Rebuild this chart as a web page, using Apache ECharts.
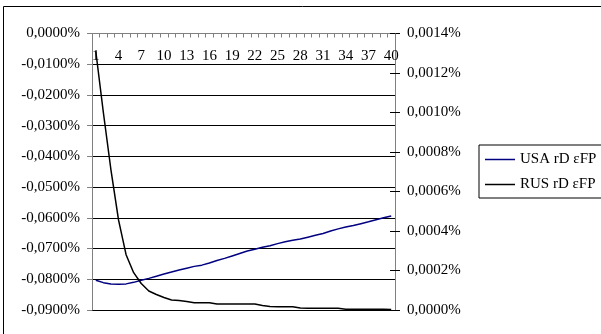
<!DOCTYPE html>
<html>
<head>
<meta charset="utf-8">
<script src="https://cdn.jsdelivr.net/npm/echarts@6/dist/echarts.min.js"></script>
<style>html,body{margin:0;padding:0;background:#fff;}#c{width:601px;height:334px;}</style>
</head>
<body>
<div id="c"></div>
<script>
// Categories 1..40
var categories = ['1','2','3','4','5','6','7','8','9','10','11','12','13','14','15','16','17','18','19','20',
  '21','22','23','24','25','26','27','28','29','30','31','32','33','34','35','36','37','38','39','40'];
// USA rD εFP (left axis, in %)
var usaValues = [-0.0803,-0.0811,-0.0815,-0.0816,-0.0815,-0.0810,-0.0803,-0.0797,-0.0790,-0.0783,
  -0.0776,-0.0770,-0.0764,-0.0758,-0.0754,-0.0747,-0.0739,-0.0732,-0.0724,-0.0716,
  -0.0708,-0.0702,-0.0696,-0.0691,-0.0684,-0.0678,-0.0673,-0.0669,-0.0663,-0.0657,
  -0.0651,-0.0643,-0.0636,-0.0630,-0.0625,-0.0619,-0.0613,-0.0606,-0.0600,-0.0594];
// RUS rD εFP (right axis, in %)
var rusValues = [0.00131,0.00100,0.00071,0.000456,0.00028,0.000189,0.000134,0.0000962,0.0000785,0.0000633,
  0.0000506,0.0000476,0.000043,0.000037,0.000037,0.000037,0.0000304,0.00003,0.00003,0.00003,
  0.00003,0.00003,0.0000228,0.0000177,0.0000167,0.0000167,0.0000167,0.0000101,0.0000086,0.0000086,
  0.0000086,0.0000086,0.0000086,0.0000035,0.0000035,0.0000035,0.0000035,0.0000035,0.0000035,0.000002];
var leftTicks = {min: -0.09, max: 0, interval: 0.01};
var rightTicks = {min: 0, max: 0.0014, interval: 0.0002};

function fmt(v){
  if (Math.abs(v) < 1e-12) v = 0;
  return v.toFixed(4).replace('.', ',') + '%';
}
var FONT = 'Liberation Serif';
var chart = echarts.init(document.getElementById('c'), null, {renderer: 'canvas'});
chart.setOption({
  animation: false,
  backgroundColor: '#fff',
  graphic: [{
    type: 'rect', shape: {x: 3.5, y: 6.5, width: 700, height: 400},
    style: {fill: 'none', stroke: '#000', lineWidth: 1}, silent: true, z: -10
  }],
  grid: {left: 92, right: 206, top: 33.5, bottom: 24, containLabel: false},
  legend: {
    orient: 'vertical', left: 479, top: 145,
    padding: [6, 30, 5, 6], itemGap: 8,
    borderColor: '#000', borderWidth: 1,
    icon: 'rect', itemWidth: 30, itemHeight: 1.5,
    textStyle: {fontFamily: FONT, fontSize: 15, color: '#000', lineHeight: 17},
    data: ['USA rD εFP', 'RUS rD εFP']
  },
  xAxis: {
    type: 'category', data: categories, position: 'top', boundaryGap: true,
    axisLine: {lineStyle: {color: '#808080', width: 1}},
    axisTick: {show: true, inside: true, length: 4, interval: 0, lineStyle: {color: '#808080'}},
    axisLabel: {inside: true, interval: 2, margin: 15, fontFamily: FONT, fontSize: 15, color: '#000'},
    splitLine: {show: false}
  },
  yAxis: [{
    type: 'value', position: 'left', min: leftTicks.min, max: leftTicks.max, interval: leftTicks.interval,
    axisLine: {show: true, lineStyle: {color: '#808080'}},
    axisTick: {show: true, length: 5, lineStyle: {color: '#808080'}},
    axisLabel: {formatter: fmt, margin: 12, fontFamily: FONT, fontSize: 15, color: '#000'},
    splitLine: {show: true, lineStyle: {color: '#000', width: 1}}
  }, {
    type: 'value', position: 'right', min: rightTicks.min, max: rightTicks.max, interval: rightTicks.interval,
    axisLine: {show: true, lineStyle: {color: '#808080'}},
    axisTick: {show: true, length: 5, lineStyle: {color: '#000'}},
    axisLabel: {formatter: fmt, margin: 12, fontFamily: FONT, fontSize: 15, color: '#000'},
    splitLine: {show: false}
  }, {
    type: 'value', position: 'right', min: rightTicks.min, max: rightTicks.max, interval: rightTicks.interval,
    axisLine: {show: false},
    axisTick: {show: true, inside: true, length: 5, lineStyle: {color: '#000'}},
    axisLabel: {show: false},
    splitLine: {show: false}
  }],
  series: [{
    name: 'USA rD εFP', type: 'line', yAxisIndex: 0, data: usaValues,
    symbol: 'none', smooth: false,
    lineStyle: {color: '#000080', width: 1.5}, itemStyle: {color: '#000080'}
  }, {
    name: 'RUS rD εFP', type: 'line', yAxisIndex: 1, data: rusValues,
    symbol: 'none', smooth: false,
    lineStyle: {color: '#000', width: 1.5}, itemStyle: {color: '#000'}
  }]
});
</script>
</body>
</html>
